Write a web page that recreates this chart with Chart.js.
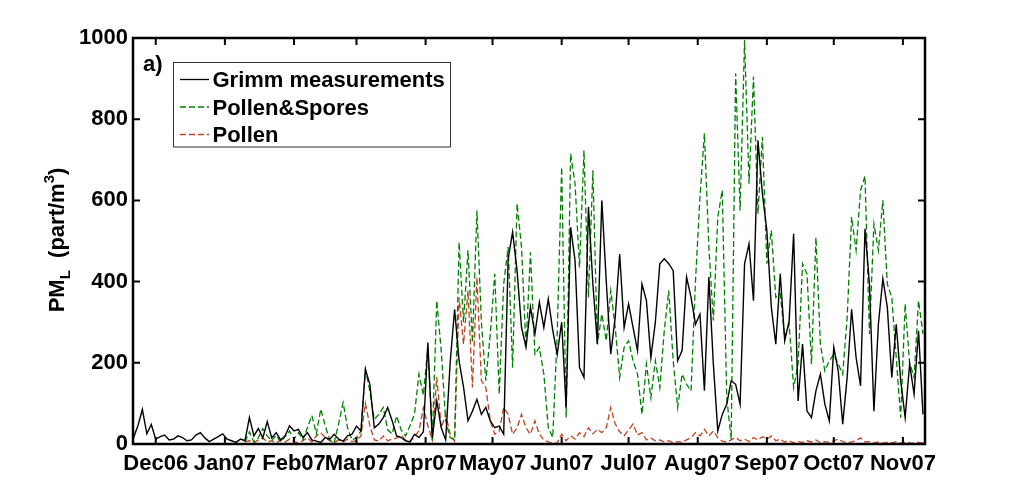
<!DOCTYPE html>
<html>
<head>
<meta charset="utf-8">
<script src="https://cdn.jsdelivr.net/npm/chart.js@4/dist/chart.umd.min.js"></script>
<style>
html,body{margin:0;padding:0;background:#fff;}
#wrap{width:1023px;height:500px;position:relative;}
</style>
</head>
<body>
<div id="wrap"><canvas id="c" width="1023" height="500"></canvas></div>
<script>
// Days are counted from 1 Dec 2006; one value every DAY_STEP days starting at FIRST_DAY
const FIRST_DAY = -10;
const DAY_STEP = 2;

const grimm = [
  15,45,85,25,48,12,18,22,10,12,
  20,16,8,10,22,28,15,6,12,18,
  25,12,8,4,12,8,65,20,38,15,
  55,15,28,10,20,45,32,36,16,28,
  10,7,4,16,12,24,12,7,20,24,
  44,32,184,147,40,49,65,90,57,20,
  16,8,5,24,16,30,250,15,106,40,
  10,200,332,205,140,57,81,110,73,90,
  57,40,44,24,456,522,427,287,238,337,
  271,349,287,357,280,221,300,90,534,452,
  188,164,584,394,246,600,400,221,312,468,
  287,345,287,230,394,353,213,300,444,456,
  444,427,205,230,411,361,295,320,131,411,
  197,32,73,98,156,147,98,444,493,353,
  748,616,526,337,246,419,254,304,518,106,
  246,81,65,131,172,98,57,238,180,49,
  164,332,213,143,530,394,81,295,407,337,
  164,295,156,65,197,123,279,73
];

const pollenSpores = [
  null,null,null,null,null,null,null,null,null,null,
  null,null,null,null,null,null,null,null,null,null,
  null,null,null,null,null,5,30,5,15,38,
  20,8,22,5,18,32,12,28,10,40,
  70,25,86,45,10,3,50,102,40,10,
  16,32,184,130,60,73,90,35,25,69,
  35,20,45,73,172,120,238,10,353,230,
  57,16,10,497,300,477,250,575,300,156,
  271,419,123,394,485,188,592,485,238,472,
  221,238,172,40,16,271,682,65,715,641,
  435,723,361,674,246,320,254,378,287,164,
  238,254,205,172,73,197,114,205,139,279,
  378,205,90,172,147,131,402,608,765,485,
  304,559,625,114,12,913,575,995,641,905,
  567,756,444,526,361,370,263,295,139,197,
  444,419,197,509,246,180,205,221,197,172,
  312,559,477,625,660,271,542,477,600,394,
  361,213,65,345,200,164,353,271
];

const pollen = [
  null,null,null,null,null,null,null,null,null,null,
  null,null,null,null,null,null,null,null,null,null,
  null,null,null,null,null,5,8,3,10,15,
  5,8,3,10,5,12,6,3,8,15,
  5,20,28,15,8,3,10,5,12,6,
  8,20,100,45,10,7,20,8,12,15,
  22,10,6,18,32,90,45,10,165,40,
  73,24,7,361,246,378,139,411,156,139,
  57,24,32,90,73,24,40,73,40,24,
  57,24,10,5,2,3,24,8,20,12,
  28,18,40,25,36,28,40,90,50,30,
  20,35,49,22,28,10,15,8,10,5,
  8,3,6,4,10,16,28,20,36,20,
  32,15,7,5,10,16,8,12,6,16,
  10,18,12,20,8,12,5,8,3,6,
  4,8,5,10,3,6,4,8,12,6,
  3,5,8,15,5,6,3,5,2,4,
  3,6,2,4,3,2,4,3
];

const monthTickDays = [0,31,62,90,121,151,182,212,243,274,304,335];
const monthTickLabels = ['Dec06','Jan07','Feb07','Mar07','Apr07','May07','Jun07','Jul07','Aug07','Sep07','Oct07','Nov07'];
const yTickValues = [0,200,400,600,800,1000];
const seriesNames = ['Grimm measurements','Pollen&Spores','Pollen'];
const xRange = [-10.2, 344.9];
const yRange = [0, 1000];

const FONT = "'Liberation Sans', Arial, Helvetica, sans-serif";
const COLORS = ['#000000', 'rgb(0,128,0)', 'rgb(192,66,32)'];
const DASHES = [[], [6,3], [6,3]];

function toPoints(arr){
  return arr.map((v,i)=>({x: FIRST_DAY + i*DAY_STEP, y: v}));
}

const decor = {
  id: 'decor',
  afterDatasetsDraw(chart){
    const {ctx, chartArea:a, scales} = chart;
    const xs = scales.x, ys = scales.y;
    ctx.save();
    ctx.strokeStyle = '#000';
    ctx.lineWidth = 2;
    ctx.beginPath();
    xs.ticks.forEach(t=>{
      const px = xs.getPixelForValue(t.value);
      ctx.moveTo(px, a.bottom); ctx.lineTo(px, a.bottom-7);
      ctx.moveTo(px, a.top); ctx.lineTo(px, a.top+7);
    });
    ys.ticks.forEach(t=>{
      const py = ys.getPixelForValue(t.value);
      ctx.moveTo(a.left, py); ctx.lineTo(a.left+7, py);
      ctx.moveTo(a.right, py); ctx.lineTo(a.right-7, py);
    });
    ctx.stroke();
    ctx.lineWidth = 2.5;
    ctx.strokeRect(a.left, a.top, a.right-a.left, a.bottom-a.top);

    ctx.fillStyle = '#000';
    ctx.font = 'bold 22px ' + FONT;
    ctx.textAlign = 'left';
    ctx.textBaseline = 'alphabetic';
    ctx.fillText('a)', 143, 71);

    const bx = 173.5, by = 62.5, bw = 277, bh = 84.5;
    ctx.fillStyle = '#fff';
    ctx.fillRect(bx, by, bw, bh);
    ctx.strokeStyle = '#333';
    ctx.lineWidth = 1;
    ctx.strokeRect(bx, by, bw, bh);
    const rows = [79.5, 107, 134.5];
    chart.data.datasets.forEach((ds, i)=>{
      const yy = rows[i];
      ctx.strokeStyle = ds.borderColor;
      ctx.lineWidth = 1.3;
      ctx.setLineDash(ds.borderDash || []);
      ctx.beginPath(); ctx.moveTo(180, yy); ctx.lineTo(209, yy); ctx.stroke();
      ctx.setLineDash([]);
      ctx.fillStyle = '#000';
      ctx.font = 'bold 22px ' + FONT;
      ctx.fillText(ds.label, 212.5, yy + 7.5);
    });
    ctx.restore();
  },
  afterDraw(chart){
    const ctx = chart.ctx;
    ctx.save();
    const big = 'bold 22px ' + FONT, small = 'bold 15px ' + FONT;
    const parts = [
      {t:'PM', f:big, dy:0},
      {t:'L', f:small, dy:6},
      {t:'  (part/m', f:big, dy:0},
      {t:'3', f:small, dy:-10},
      {t:')', f:big, dy:0}
    ];
    let total = 0;
    parts.forEach(p=>{ ctx.font = p.f; p.w = ctx.measureText(p.t).width; total += p.w; });
    ctx.translate(64, 240 + total/2);
    ctx.rotate(-Math.PI/2);
    ctx.fillStyle = '#000';
    ctx.textBaseline = 'alphabetic';
    ctx.textAlign = 'left';
    let cx = 0;
    parts.forEach(p=>{ ctx.font = p.f; ctx.fillText(p.t, cx, p.dy); cx += p.w; });
    ctx.restore();
  }
};

const datasets = [grimm, pollenSpores, pollen].map((arr, i)=>({
  label: seriesNames[i],
  data: toPoints(arr),
  borderColor: COLORS[i],
  backgroundColor: COLORS[i],
  borderWidth: i === 0 ? 1.4 : 1.3,
  borderDash: DASHES[i],
  pointRadius: 0,
  tension: 0,
  spanGaps: false,
  fill: false
}));

new Chart(document.getElementById('c'), {
  type: 'line',
  data: { datasets },
  options: {
    responsive: false,
    animation: false,
    devicePixelRatio: 1,
    layout: { padding: { left: 0, right: 98, top: 38, bottom: 0 } },
    plugins: { legend: { display: false }, tooltip: { enabled: false } },
    scales: {
      x: {
        type: 'linear',
        min: xRange[0], max: xRange[1],
        afterFit(s){ s.height = 56; },
        afterBuildTicks(s){ s.ticks = monthTickDays.map(v=>({value:v})); },
        grid: { display: false, drawTicks: false },
        border: { display: false },
        ticks: {
          autoSkip: false, maxRotation: 0, minRotation: 0,
          padding: 7,
          color: '#000',
          font: { family: FONT, size: 22, weight: 'bold' },
          callback(v){ const k = monthTickDays.indexOf(v); return k >= 0 ? monthTickLabels[k] : ''; }
        }
      },
      y: {
        type: 'linear',
        min: yRange[0], max: yRange[1],
        afterFit(s){ s.width = 133; },
        afterBuildTicks(s){ s.ticks = yTickValues.map(v=>({value:v})); },
        grid: { display: false, drawTicks: false },
        border: { display: false },
        ticks: {
          padding: 5,
          color: '#000',
          font: { family: FONT, size: 22, weight: 'bold' },
          callback(v){ return String(v); }
        }
      }
    }
  },
  plugins: [decor]
});
</script>
</body>
</html>
